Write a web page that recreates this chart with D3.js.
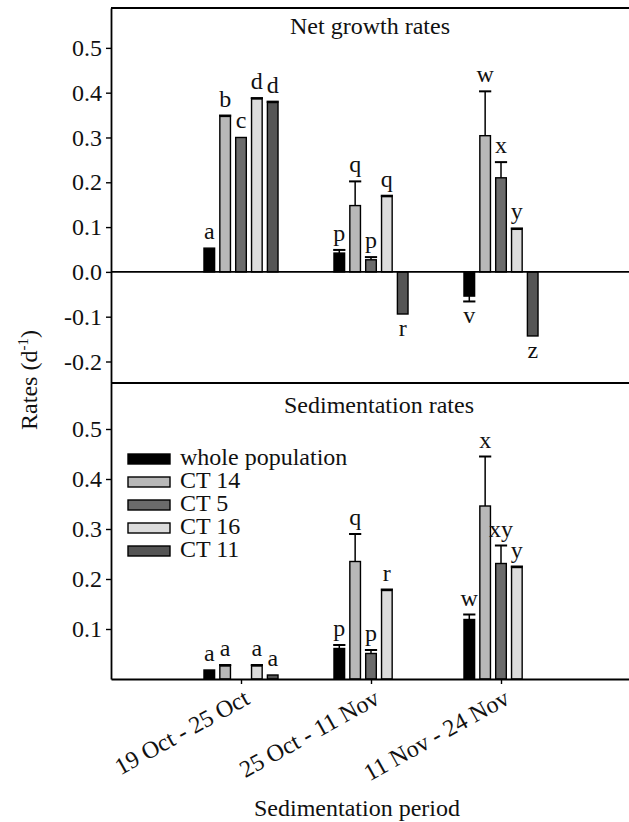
<!DOCTYPE html>
<html>
<head>
<meta charset="utf-8">
<script src="https://cdn.jsdelivr.net/npm/d3@7"></script>
<style>
  body { margin: 0; background: #fff; }
  svg text { font-family: "Liberation Serif", "Times New Roman", Times, serif; fill: #111; }
</style>
</head>
<body>
<svg id="chart" width="629" height="822" font-family="Liberation Serif, serif"></svg>
<script>
// Sampling periods and cell types
const periods = ["19 Oct - 25 Oct", "25 Oct - 11 Nov", "11 Nov - 24 Nov"];
const series = ["whole population", "CT 14", "CT 5", "CT 16", "CT 11"];
const seriesColors = ["#000000", "#b8b8b8", "#6b6b6b", "#dcdcdc", "#555555"];

// Net growth rates (d-1), one row per period, one column per series
const growth = [
  [0.053, 0.347, 0.300, 0.386, 0.378],
  [0.042, 0.148, 0.027, 0.168, -0.094],
  [-0.054, 0.304, 0.210, 0.095, -0.143]
];
const growthErr = [
  [0, 0.002, 0, 0.002, 0.002],
  [0.007, 0.054, 0.006, 0.002, 0],
  [0.012, 0.099, 0.035, 0.002, 0]
];
const growthLetters = [
  ["a", "b", "c", "d", "d"],
  ["p", "q", "p", "q", "r"],
  ["v", "w", "x", "y", "z"]
];

// Sedimentation rates (d-1); null = not measured
const sedimentation = [
  [0.018, 0.026, null, 0.026, 0.008],
  [0.061, 0.235, 0.051, 0.177, null],
  [0.119, 0.346, 0.231, 0.223, null]
];
const sedimentationErr = [
  [0, 0.002, null, 0.002, 0],
  [0.007, 0.055, 0.007, 0.002, null],
  [0.010, 0.099, 0.036, 0.002, null]
];
const sedimentationLetters = [
  ["a", "a", null, "a", "a"],
  ["p", "q", "p", "r", null],
  ["w", "x", "xy", "y", null]
];

const growthTicks = [-0.2, -0.1, 0.0, 0.1, 0.2, 0.3, 0.4, 0.5];
const sedimentationTicks = [0.1, 0.2, 0.3, 0.4, 0.5];

const svg = d3.select("#chart");
const FONT = 24;
const left = 111, right = 631;
const topY = 8, midY = 383, bottomY = 679;

const x = d3.scalePoint().domain(periods).range([left, right]).padding(1);
const inner = d3.scaleBand().domain(series).range([-39.4, 39.4]).paddingInner(0.33).paddingOuter(0.15);

const yTop = d3.scaleLinear().domain([-0.248, 0.589]).range([midY, topY]);
const yBot = d3.scaleLinear().domain([0, 0.592]).range([bottomY, midY]);

function drawBars(values, errs, letters, y) {
  const g = svg.append("g");
  const data = [];
  values.forEach((row, i) => row.forEach((v, j) => {
    if (v !== null) data.push({ p: periods[i], s: series[j], c: seriesColors[j], v, e: errs[i][j], l: letters[i][j] });
  }));
  const bw = inner.bandwidth();
  g.selectAll("rect").data(data).join("rect")
    .attr("x", d => x(d.p) + inner(d.s))
    .attr("y", d => y(Math.max(d.v, 0)))
    .attr("width", bw)
    .attr("height", d => Math.abs(y(d.v) - y(0)))
    .attr("fill", d => d.c)
    .attr("stroke", "#000")
    .attr("stroke-width", 1.4);
  const eb = data.filter(d => d.e > 0);
  const cx = d => x(d.p) + inner(d.s) + bw / 2;
  const tip = d => y(d.v >= 0 ? d.v + d.e : d.v - d.e);
  g.selectAll("line.err").data(eb).join("line")
    .attr("class", "err")
    .attr("x1", cx).attr("x2", cx)
    .attr("y1", d => y(d.v)).attr("y2", tip)
    .attr("stroke", "#000").attr("stroke-width", 1.5);
  g.selectAll("line.cap").data(eb).join("line")
    .attr("class", "cap")
    .attr("x1", d => cx(d) - bw / 2 - 0.8).attr("x2", d => cx(d) + bw / 2 + 0.8)
    .attr("y1", tip).attr("y2", tip)
    .attr("stroke", "#000").attr("stroke-width", 2);
  g.selectAll("text").data(data.filter(d => d.l)).join("text")
    .attr("x", cx)
    .attr("y", d => d.v >= 0 ? y(d.v + d.e) - 9 : y(d.v - d.e) + 22)
    .attr("text-anchor", "middle")
    .attr("font-size", FONT)
    .text(d => d.l);
}

function fmt(d) { return d.toFixed(1); }

// Upper panel: net growth
drawBars(growth, growthErr, growthLetters, yTop);
svg.append("line").attr("x1", left).attr("x2", right)
  .attr("y1", yTop(0)).attr("y2", yTop(0))
  .attr("stroke", "#000").attr("stroke-width", 1.6);

// Lower panel: sedimentation
drawBars(sedimentation, sedimentationErr, sedimentationLetters, yBot);

// Frame lines
svg.append("line").attr("x1", left).attr("x2", right).attr("y1", topY).attr("y2", topY)
  .attr("stroke", "#000").attr("stroke-width", 2);
svg.append("line").attr("x1", left).attr("x2", right).attr("y1", midY).attr("y2", midY)
  .attr("stroke", "#000").attr("stroke-width", 2);

// Y axes
const axTop = svg.append("g").attr("transform", `translate(${left},0)`)
  .call(d3.axisLeft(yTop).tickValues(growthTicks).tickFormat(fmt).tickSize(5).tickPadding(4).tickSizeOuter(0));
const axBot = svg.append("g").attr("transform", `translate(${left},0)`)
  .call(d3.axisLeft(yBot).tickValues(sedimentationTicks).tickFormat(fmt).tickSize(5).tickPadding(4).tickSizeOuter(0));
[axTop, axBot].forEach(a => {
  a.attr("font-family", null).attr("font-size", null);
  a.selectAll("text").attr("font-size", FONT).attr("fill", "#111");
  a.selectAll("line").attr("stroke", "#000").attr("stroke-width", 1.4);
  a.select(".domain").attr("stroke", "#000").attr("stroke-width", 1.8);
});

// X axis with outward ticks, labels set at an angle
const axX = svg.append("g").attr("transform", `translate(0,${bottomY})`)
  .call(d3.axisBottom(x).tickSize(5).tickSizeOuter(0).tickFormat(""));
axX.attr("font-family", null);
axX.select(".domain").attr("stroke", "#000").attr("stroke-width", 1.8);
axX.selectAll("line").attr("stroke", "#000").attr("stroke-width", 1.4);

svg.append("g").selectAll("text").data(periods).join("text")
  .attr("transform", d => `translate(${x(d) + 10},${bottomY + 24}) rotate(-29)`)
  .attr("text-anchor", "end")
  .attr("font-size", FONT)
  .text(d => d);

// Panel titles
svg.append("text").attr("x", 370).attr("y", 34).attr("text-anchor", "middle")
  .attr("font-size", FONT).text("Net growth rates");
svg.append("text").attr("x", 379).attr("y", 413).attr("text-anchor", "middle")
  .attr("font-size", FONT).text("Sedimentation rates");

// Axis titles
svg.append("text").attr("x", 357).attr("y", 816).attr("text-anchor", "middle")
  .attr("font-size", FONT).text("Sedimentation period");
const yt = svg.append("text")
  .attr("transform", "translate(37,380) rotate(-90)")
  .attr("text-anchor", "middle")
  .attr("font-size", FONT);
yt.append("tspan").text("Rates (d");
yt.append("tspan").attr("font-size", 15).attr("dy", -9).text("-1");
yt.append("tspan").attr("dy", 9).text(")");

// Legend
const lg = svg.append("g").selectAll("g").data(series).join("g")
  .attr("transform", (d, i) => `translate(128,${454 + i * 23})`);
lg.append("rect").attr("width", 42).attr("height", 10)
  .attr("fill", (d, i) => seriesColors[i]).attr("stroke", "#000").attr("stroke-width", 1.4);
lg.append("text").attr("x", 52).attr("y", 11).attr("font-size", FONT).text(d => d);
</script>
</body>
</html>
